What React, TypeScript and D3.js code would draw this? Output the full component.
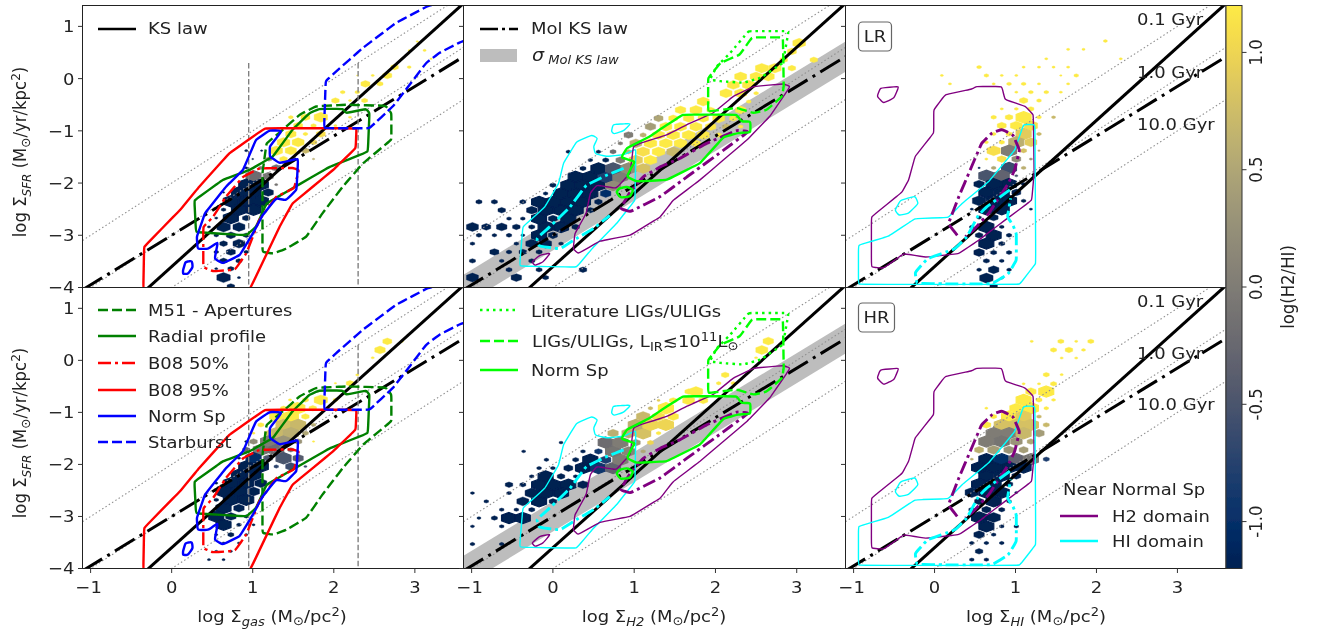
import React from "react";
import * as d3 from "d3";

type Pt = [number, number];
type Row = [number, [number, number, number][]];

const G = 1.2; // gold end of the colour scale
const N = -1.2; // navy end of the colour scale

const xTicks = [-1, 0, 1, 2, 3];
const yTicks = [-4, -3, -2, -1, 0, 1];
const cbTicks = [1.0, 0.5, 0.0, -0.5, -1.0];
const depletionOffsets = [-2, -3, -4];
const depletionLabels = ["0.1 Gyr", "1.0 Gyr", "10.0 Gyr"];
const lawX = [-1.1, 3.6];

// ---------- gas panel contours ----------
const b08_95: Pt[] = [[-0.35,-4.05],[-0.34,-3.22],[0.10,-2.52],[0.34,-2.07],[0.71,-1.43],[1.15,-0.95],[2.28,-0.95],[2.27,-1.33],[1.99,-1.75],[1.49,-2.39],[1.33,-2.84],[0.96,-4.05]];
const m51Ap: Pt[] = [[1.12,-3.32],[1.25,-3.35],[1.41,-3.26],[1.66,-3.03],[1.86,-2.58],[2.11,-2.07],[2.36,-1.62],[2.71,-1.17],[2.71,-0.66],[2.64,-0.52],[2.15,-0.50],[1.78,-0.53],[1.58,-0.69],[1.37,-0.98],[1.17,-1.24],[1.12,-1.81]];
const radial: Pt[] = [[0.28,-2.33],[0.30,-2.94],[0.92,-3.0],[1.04,-2.84],[1.17,-2.39],[1.49,-2.10],[1.95,-1.69],[2.42,-1.40],[2.44,-0.66],[2.40,-0.58],[2.15,-0.66],[2.11,-0.58],[1.82,-0.58],[1.70,-0.66],[1.49,-0.98],[1.25,-1.49],[0.96,-1.75],[0.63,-1.94]];
const b08_50: Pt[] = [[0.39,-2.84],[0.39,-3.61],[0.51,-3.69],[0.78,-3.66],[0.92,-3.35],[1.08,-2.71],[1.29,-2.26],[1.51,-2.10],[1.57,-1.75],[1.49,-1.71],[1.08,-1.72],[0.88,-1.88],[0.67,-2.26],[0.51,-2.65]];
const normSp: Pt[] = [[0.32,-3.26],[0.45,-3.26],[0.57,-3.13],[0.53,-3.45],[0.63,-3.54],[0.84,-3.38],[1.00,-2.97],[1.12,-2.62],[1.29,-2.29],[1.41,-2.33],[1.54,-2.13],[1.56,-1.53],[1.33,-1.62],[1.21,-1.49],[1.21,-1.30],[1.36,-1.0],[1.21,-0.99],[1.04,-1.17],[0.88,-1.75],[0.67,-2.07],[0.41,-2.58],[0.31,-3.03]];
const normSpIsl: Pt[] = [[0.14,-3.67],[0.17,-3.51],[0.25,-3.49],[0.26,-3.61],[0.20,-3.74],[0.14,-3.74]];
const starburst: Pt[] = [[1.88,-0.95],[1.90,-0.05],[2.03,0.14],[2.36,0.59],[2.77,1.07],[3.16,1.39],[3.7,1.6],[3.7,0.78],[3.55,0.69],[3.30,0.49],[3.14,0.30],[2.89,-0.21],[2.73,-0.53],[2.44,-0.95]];
const gasLimits = [0.95, 2.3];
const gasLimitTop = 0.3;

// ---------- H2 panel contours ----------
const h2HiThin: Pt[] = [[-0.41,-3.59],[0.29,-3.61],[0.48,-3.26],[0.78,-2.78],[1.01,-2.33],[1.02,-1.35],[0.87,-1.46],[0.66,-1.49],[0.52,-1.44],[0.50,-1.30],[0.55,-1.14],[0.48,-1.08],[0.29,-1.21],[0.13,-1.62],[0.07,-2.01],[-0.10,-2.46],[-0.37,-2.84]];
const h2HiIsl: Pt[] = [[0.72,-1.01],[0.74,-0.88],[0.83,-0.87],[0.96,-0.86],[0.87,-1.0],[0.75,-1.06]];
const h2HiThick: Pt[] = [[0.87,-1.72],[0.66,-1.85],[0.41,-2.04],[0.21,-2.46],[-0.04,-2.84],[-0.20,-3.06],[-0.17,-3.21],[0.09,-3.26],[0.29,-3.06],[0.50,-2.87],[0.70,-2.62]];
const h2H2Isl: Pt[] = [[-0.26,-3.51],[-0.22,-3.58],[-0.12,-3.51],[-0.03,-3.34],[-0.16,-3.38]];
const h2H2Thin: Pt[] = [[0.25,-3.26],[0.31,-3.35],[0.58,-3.11],[0.95,-3.0],[1.32,-2.65],[1.48,-2.33],[1.81,-1.94],[2.39,-1.17],[2.67,-0.72],[2.92,-0.15],[2.84,-0.10],[2.47,-0.15],[2.22,-0.34],[1.97,-0.66],[1.65,-0.88],[1.40,-1.08],[1.07,-1.24],[0.99,-1.30],[0.95,-1.81],[0.78,-2.10],[0.66,-2.07],[0.54,-2.04],[0.46,-2.19],[0.41,-2.58],[0.27,-2.97]];
const h2H2Thick: Pt[] = [[0.83,-2.49],[0.95,-2.55],[1.32,-2.26],[1.65,-1.88],[2.10,-1.37],[2.41,-1.01],[2.26,-0.99],[1.89,-1.24],[1.56,-1.53],[1.32,-1.69],[1.11,-1.88],[0.95,-2.17]];
const h2Norm: Pt[] = [[0.84,-1.51],[0.91,-1.33],[1.19,-1.11],[1.34,-0.95],[1.60,-0.69],[2.26,-0.69],[2.32,-0.82],[2.43,-0.82],[2.43,-1.03],[2.28,-1.04],[2.10,-1.12],[1.81,-1.62],[1.40,-1.94],[1.03,-1.97],[0.91,-1.88],[0.97,-1.69],[1.01,-1.59]];
const h2NormIsl: Pt[] = [[0.78,-2.17],[0.83,-2.28],[0.95,-2.26],[0.99,-2.13],[0.91,-2.07],[0.82,-2.10]];
const h2Ligs: Pt[] = [[1.91,-0.63],[1.91,0.01],[2.06,0.30],[2.30,0.46],[2.45,0.79],[2.83,0.79],[2.84,-0.15],[2.82,-0.34],[2.63,-0.60],[2.47,-0.66],[2.26,-0.56]];
const h2Lit: Pt[] = [[2.41,0.91],[2.90,0.91],[2.83,0.30],[2.55,0.01],[2.34,-0.08],[2.06,-0.05],[1.93,-0.02],[2.02,0.24],[2.18,0.49]];
const molSigma = 0.29;

// ---------- HI panel contours ----------
const hiH2Thin: Pt[] = [[-0.78,-2.65],[-0.78,-3.61],[-0.63,-3.63],[-0.38,-3.35],[-0.11,-3.42],[0.30,-3.35],[0.54,-3.10],[0.87,-2.71],[1.20,-2.33],[1.23,-1.81],[1.22,-0.69],[1.12,-0.53],[0.87,-0.40],[0.83,-0.15],[0.52,-0.15],[0.46,-0.20],[0.13,-0.31],[-0.01,-0.60],[-0.01,-1.04],[-0.24,-1.49],[-0.32,-1.94],[-0.40,-2.17]];
const hiH2Isl: Pt[] = [[-0.71,-0.34],[-0.67,-0.18],[-0.44,-0.15],[-0.50,-0.37],[-0.63,-0.47]];
const hiHiThin: Pt[] = [[-0.94,-3.94],[-0.94,-3.19],[-0.57,-3.02],[-0.24,-2.68],[0.17,-2.66],[0.34,-2.39],[0.67,-1.97],[0.99,-1.37],[1.10,-0.88],[1.24,-0.88],[1.25,-3.54],[1.05,-3.94]];
const hiHiIsl: Pt[] = [[-0.49,-2.52],[-0.42,-2.33],[-0.24,-2.25],[-0.20,-2.39],[-0.32,-2.58],[-0.44,-2.62]];
const hiH2Thick: Pt[] = [[0.28,-3.0],[0.17,-2.78],[0.30,-2.26],[0.44,-1.75],[0.58,-1.24],[0.71,-1.04],[0.83,-0.97],[0.97,-1.08],[1.05,-1.37],[0.99,-1.75],[0.91,-2.01],[0.67,-2.58],[0.48,-2.90],[0.38,-3.03]];
const hiHiThick: Pt[] = [[0.93,-2.13],[0.64,-2.46],[0.54,-2.62],[0.40,-3.03],[0.25,-3.26],[-0.09,-3.45],[-0.24,-3.71],[-0.22,-3.92],[0.13,-3.93],[0.71,-3.93],[0.91,-3.74],[1.01,-3.48],[1.01,-2.97],[0.97,-2.81],[0.90,-2.65],[0.94,-2.29]];

// ---------- hexbin cells: [y, [[x, relative size, log(H2/HI)], ...]] ----------
const hexGasLR: Row[] = [
 [0.71,[[3.03,.15,G]]],[0.54,[[2.93,.15,G],[3.12,.2,G]]],[0.38,[[2.84,.15,G],[3.20,.15,G]]],[0.22,[[2.75,.5,G],[2.93,.25,G]]],
 [0.06,[[2.66,.6,G],[2.48,.2,G],[2.29,.1,G]]],[-0.10,[[2.39,.6,G],[2.57,.4,G]]],[-0.26,[[2.29,.3,G],[2.11,.3,G]]],[-0.42,[[2.02,.5,G],[2.38,.4,G],[2.20,.2,G]]],
 [-0.74,[[1.84,.9,G],[1.65,.6,G],[2.20,.2,G],[1.47,.3,G]]],[-0.90,[[1.56,.6,G],[1.75,.35,G],[2.02,.2,G]]],[-1.06,[[1.47,.7,G],[1.65,.3,G],[1.84,.6,1.1]]],
 [-1.22,[[1.38,.85,G],[1.56,.8,G],[1.75,.45,1.0]]],[-1.38,[[1.29,.85,G],[1.47,.75,G],[1.65,.5,.7],[0.92,.2,N],[1.11,.15,N]]],[-1.54,[[1.38,.5,G],[1.75,.15,.6],[1.0,.12,N],[1.20,.4,.3]]],
 [-1.71,[[1.10,.3,0],[1.29,.6,-.1],[0.92,.2,N]]],[-1.87,[[1.01,1,-.2],[1.19,.7,-.1]]],
 [-2.03,[[0.92,1,N],[1.10,1,N],[1.29,.2,-.1]]],[-2.18,[[1.01,1,N],[0.83,1,N],[0.64,.15,N],[1.19,.7,N]]],[-2.35,[[0.73,1,N],[0.92,1,N],[1.10,1,N]]],
 [-2.51,[[0.83,1,N],[1.01,1,N],[0.64,.3,N]]],[-2.67,[[0.73,1,N],[0.92,.5,N],[0.55,.2,N]]],[-2.84,[[0.64,.9,N],[0.83,.8,N],[0.46,.2,N]]],
 [-3.0,[[0.73,.6,N],[0.92,.4,N],[0.55,.3,N]]],[-3.16,[[0.64,.5,N],[0.83,.8,N]]],[-3.32,[[0.73,.6,N],[0.92,.3,N],[0.55,.3,N]]],
 [-3.49,[[0.64,.5,N],[0.83,.4,N]]],[-3.64,[[0.73,.4,N],[0.55,.2,N]]],[-3.81,[[0.64,.9,N],[0.83,.2,N]]],[-3.98,[[0.73,.5,N]]],
];
const hexGasHR: Row[] = [
 [0.365,[[2.66,.6,G],[2.84,.2,G]]],[0.2,[[2.57,.7,G]]],[0.05,[[2.48,.2,G]]],[-0.28,[[2.29,.2,G]]],[-0.44,[[2.2,.5,G],[2.02,.15,G]]],
 [-0.76,[[1.84,.9,G],[1.65,.4,G],[2.02,.3,G],[1.46,.2,G]]],[-0.92,[[1.74,.5,G],[1.93,.2,G],[1.55,1,G],[1.38,.4,G]]],[-1.08,[[1.29,.9,G],[1.47,1,G],[1.65,.5,G]]],
 [-1.24,[[1.10,.4,G],[1.38,1,.8],[1.56,1,.7],[1.75,.3,.6]]],[-1.4,[[1.01,.2,G],[1.29,1,.7],[1.47,1,.6],[1.65,.4,.5],[1.19,.5,.9]]],
 [-1.56,[[1.19,1,0],[1.38,1,.3],[1.56,.5,.3],[1.75,.15,G],[1.01,.5,.2],[0.92,.2,N]]],[-1.72,[[1.10,1,-.1],[1.29,1,-.2],[1.47,.4,-.2],[0.92,.5,-.3]]],
 [-1.88,[[1.01,1,-1.0],[1.19,.6,-.5],[1.38,1,-.5],[1.56,.7,-.4],[0.83,.2,N]]],[-2.04,[[0.92,1,N],[1.10,1,N],[1.29,.3,-.7],[1.47,.7,-.6],[1.65,.2,-.6]]],
 [-2.2,[[0.83,1,N],[1.01,1,N]]],[-2.36,[[0.73,1,N],[0.92,1,N],[1.10,.8,N],[0.55,.2,N]]],[-2.52,[[0.64,1,N],[0.83,1,N],[1.01,.8,N]]],
 [-2.68,[[0.73,1,N],[0.92,1,N],[0.55,.3,N]]],[-2.84,[[0.64,1,N],[0.83,.7,N]]],[-3.0,[[0.55,1,N],[0.73,.7,N],[0.92,.3,N]]],
 [-3.16,[[0.64,1,N],[0.83,.3,N],[1.01,.2,N]]],[-3.35,[[0.73,.4,N],[0.92,.2,N],[0.55,.2,N]]],[-3.51,[[0.64,.2,N],[0.83,.2,N]]],
 [-3.67,[[0.73,.2,N],[0.55,.2,N]]],[-3.83,[[0.46,.2,N],[0.64,.2,N]]],
];
const hexH2LR: Row[] = [
 [-3.81,[[-.99,.8,N],[-.45,.7,N],[-.09,.4,N]]],[-3.66,[[-.54,.4,N],[.37,.5,N],[-.17,.4,N]]],[-3.49,[[-.99,.4,N],[-.63,.3,N],[-.26,.4,N]]],
 [-3.32,[[-.72,.6,N],[-.54,.35,N],[-.37,.5,N],[-.17,.4,N]]],[-3.16,[[-.99,.3,N],[-.45,.3,N],[-.26,.8,N],[-.09,.8,N],[.1,.3,N]]],
 [-3.0,[[-.91,.35,N],[-.72,.3,N],[-.54,.35,N],[-.37,.25,N],[-.17,1,N],[0,.6,N]]],[-2.84,[[-.99,.8,N],[-.82,.6,N],[-.63,.7,N],[-.45,.5,N],[-.26,.4,N],[-.09,1,N],[.1,1,N],[.28,.5,N]]],
 [-2.68,[[-.54,.3,N],[-.37,.3,N],[-.17,1,N],[0,.6,N],[.19,1,N]]],[-2.52,[[-.63,.5,N],[-.26,.7,N],[-.09,1,N],[.1,1,N],[.28,1,N],[.46,.5,N]]],
 [-2.36,[[-.91,.4,N],[-.72,.4,N],[-.37,.4,N],[-.17,1,N],[0,1,N],[.19,1,N],[.37,1,N],[.56,.5,N]]],[-2.2,[[-.09,.3,N],[.1,1,N],[.28,1,N],[.46,1,N],[.65,.7,-1.0]]],
 [-2.04,[[0,.4,N],[.19,1,N],[.37,1,N],[.56,1,N],[.74,1,.2]]],[-1.88,[[.28,1,N],[.46,1,N],[.65,1,-.8],[.83,1,0]]],
 [-1.72,[[.37,.4,N],[.56,1,N],[.74,1,-.5],[.93,1,.2],[1.11,.9,.8]]],[-1.56,[[.46,.3,N],[.65,.4,N],[.83,.6,0],[1.02,.9,.9],[1.2,.85,G]]],
 [-1.40,[[.19,.3,N],[.56,.3,N],[.74,.4,-.2],[.93,.4,.6],[1.11,.85,1.1],[1.3,.85,G],[1.48,.85,.7]]],[-1.24,[[.83,.3,0],[1.02,.8,.6],[1.2,.85,G],[1.39,.85,G],[1.57,.85,G],[1.76,.6,G]]],
 [-1.08,[[.93,.6,0],[1.11,.4,.6],[1.3,.8,G],[1.48,.85,G],[1.67,.85,G],[1.85,.8,G],[2.04,.4,G]]],[-.92,[[1.2,.7,.4],[1.39,.8,G],[1.57,.8,G],[1.76,.8,G],[1.94,.7,G],[2.13,.5,.7],[2.31,.3,G]]],
 [-.76,[[1.3,.6,.5],[1.48,.6,G],[1.67,.7,G],[1.85,.7,G],[2.04,.8,G],[2.22,.5,G]]],[-.60,[[1.57,.7,G],[1.76,.8,G],[1.94,.5,G],[2.31,.7,G]]],
 [-.44,[[1.85,.8,G],[2.41,.3,G]]],[-.28,[[2.13,.8,G],[2.31,.8,G],[2.5,.3,G]]],[-.12,[[2.22,.8,G],[2.41,.85,G]]],[.04,[[2.31,.8,G],[2.5,.8,G],[2.65,.8,G]]],
 [.2,[[2.57,.85,G],[2.73,.85,G],[2.94,.5,G]]],[.36,[[2.84,.5,G],[3.21,.5,G]]],[.52,[[2.94,.6,G]]],[.68,[[3.03,.85,G]]],
];
const hexH2HR: Row[] = [
 [-3.53,[[-.99,.3,N],[-.63,.3,N]]],[-3.19,[[-.99,.25,N],[-.63,.3,N]]],[-3.03,[[-.91,.25,N],[-.72,.4,N],[-.54,1,N],[-.37,1,N]]],
 [-2.87,[[-.63,.3,N],[-.45,.3,N],[-.26,.4,N]]],[-2.71,[[-.82,.3,N],[-.37,.8,N],[-.17,1,N],[0,.5,N]]],[-2.55,[[-.99,.25,N],[-.54,.3,N],[-.26,.9,N],[-.09,1,N],[.1,1,N]]],
 [-2.39,[[-.54,.5,N],[-.37,.4,N],[-.17,1,N],[0,1,N],[.19,1,N],[.37,.7,N]]],[-2.23,[[-.26,.3,N],[-.09,1,N],[.1,.5,N],[.28,.3,N]]],
 [-2.07,[[-.17,.3,N],[0,.3,N],[.19,.6,N],[.37,1,N],[.56,1,-.9],[.74,1,-.3]]],[-1.91,[[-.08,.3,N],[.28,.4,N],[.46,1,N],[.65,.7,-.8],[.83,1,0]]],
 [-1.75,[[-.36,.25,N],[.37,.3,N],[.56,.5,-.9],[.74,1,-.1],[.93,.9,.1],[1.11,.3,.5]]],[-1.58,[[.1,.25,N],[.65,1,-.2],[.83,1,0],[1.02,.6,.3],[1.2,.4,1.0]]],
 [-1.4,[[.74,.7,.6],[.93,.9,.6],[1.11,1,.8],[1.3,.3,G]]],[-1.24,[[1.02,1,.6],[1.2,1,1],[1.39,1,1]]],[-1.08,[[1.11,.9,.7],[1.3,.8,1.1],[1.48,.7,G]]],
 [-.92,[[1.2,.3,.7],[1.39,1,G]]],[-.77,[[1.3,.2,.9],[1.48,.5,G],[1.67,.8,G],[1.85,.6,G]]],[-.6,[[1.67,.5,G],[1.76,.9,G]]],[-.44,[[2.04,.3,G],[2.22,.3,G]]],
 [-.28,[[2.12,.5,G]]],[.05,[[2.5,.2,G]]],[.2,[[2.57,.8,G]]],[.37,[[2.65,.7,G]]],
];
const hexHiLR: Row[] = [
 [.72,[[2.11,.25,G]]],[.56,[[1.65,.2,G],[1.84,.2,G]]],[.38,[[1.38,.2,G],[2.30,.2,G]]],[.22,[[.55,.3,G],[1.10,.2,G],[1.29,.2,G],[1.47,.2,G],[1.65,.2,G]]],
 [.06,[[.09,.2,G],[.64,.3,G],[.83,.2,G],[1.01,.2,G],[1.56,.15,G],[1.75,.3,G]]],[-.10,[[.19,.2,G],[.73,.2,G],[.92,.3,G],[1.10,.3,G],[1.29,.2,G],[1.65,.2,G]]],
 [-.26,[[1.01,.2,G],[1.19,.3,G],[1.38,.3,G],[1.56,.2,G]]],[-.42,[[1.10,.55,G],[1.29,.3,G]]],[-.58,[[.83,.2,G],[1.01,.25,G],[1.19,.4,G]]],
 [-.74,[[.73,.35,G],[.92,.5,G],[1.10,1,G],[1.29,.3,G],[1.47,.25,.7]]],[-.90,[[.83,.6,G],[1.01,.8,G],[1.19,.9,1.1]]],[-1.06,[[.73,.3,G],[.92,.4,G],[1.10,1,.9],[1.29,.3,.7]]],
 [-1.22,[[.64,.25,G],[.83,.35,G],[1.01,1,.6],[1.19,.8,.9]]],[-1.38,[[.73,.9,1.1],[.92,1,0],[1.10,.4,.8],[1.29,.15,.5]]],[-1.54,[[.64,.2,G],[.83,.6,1.1],[1.01,.6,.2],[1.19,.2,.3]]],
 [-1.71,[[.55,.15,N],[.73,.3,.5],[.92,1,-.6],[1.10,.3,.6]]],[-1.86,[[.64,1,-.5],[.83,1,-.3],[1.01,.2,-.5]]],[-2.02,[[.55,.7,N],[.73,1,N],[.92,1,N],[1.10,.3,N]]],
 [-2.18,[[.64,1,N],[.83,1,N],[1.01,.6,N]]],[-2.34,[[.55,.9,N],[.73,1,N],[.92,1,N],[1.10,.3,N]]],[-2.50,[[.46,.2,N],[.64,1,N],[.83,1,N],[1.19,.2,N]]],
 [-2.66,[[.55,.3,N],[.73,.6,N]]],[-2.84,[[.46,.3,N],[.64,1,N],[.83,.3,N]]],[-3.0,[[.55,.5,N],[.73,1,N],[.92,.35,N]]],[-3.16,[[.64,1,N],[.83,.4,N]]],
 [-3.33,[[.55,.7,N],[.73,.4,N],[.92,.35,N]]],[-3.49,[[.64,.4,N],[.83,.3,N]]],[-3.66,[[.55,.3,N],[.73,.7,N],[.92,.3,N]]],[-3.82,[[.64,.9,N],[.83,.2,N]]],[-3.98,[[.73,.5,N]]],
];
const hexHiHR: Row[] = [
 [.365,[[1.20,.2,G],[1.56,.4,G],[1.75,.2,G],[1.93,.4,G]]],[.2,[[1.47,.4,G],[1.66,.5,G],[1.84,.25,G]]],[.045,[[1.57,.2,G],[1.75,.2,G]]],[-.275,[[1.38,.4,G],[1.57,.2,G]]],
 [-.45,[[1.10,.2,G],[1.29,.2,G],[1.47,.4,G]]],[-.6,[[1.19,.7,G],[1.38,1,G]]],[-.76,[[1.10,1,G],[1.29,.4,G],[1.47,.25,G]]],[-.92,[[.64,.2,G],[1.01,.9,G],[1.19,1,G],[1.38,.3,G]]],
 [-1.08,[[.73,.4,G],[.92,1,G],[1.10,1,.9],[1.29,.3,.7]]],[-1.24,[[.64,.6,G],[.83,1,.8],[1.01,1,.8],[1.19,1,.8],[1.38,.4,.7]]],[-1.4,[[.73,1,0],[.92,1,0],[1.10,1,.7],[1.29,.7,.4]]],
 [-1.56,[[.64,1,0],[.83,1,-.1],[1.01,.8,.3],[1.19,.5,.5]]],[-1.72,[[.55,.6,.6],[.73,.8,.4],[.92,.7,.3],[1.10,.6,.4]]],[-1.9,[[.46,.2,.6],[.64,1,N],[.83,1,-1.0],[1.01,1,-.3],[1.19,1,-.1],[1.38,.4,-.8]]],
 [-2.06,[[.55,1,N],[.73,1,N],[.92,1,N],[1.10,1,N]]],[-2.22,[[.64,1,N],[.83,1,N],[1.01,.6,N]]],[-2.38,[[.55,1,N],[.73,1,N],[.92,.5,N]]],[-2.54,[[.46,.9,N],[.64,1,N],[.83,1,N],[1.01,.2,N]]],
 [-2.71,[[.55,.6,N],[.73,1,N],[.92,.3,N]]],[-2.87,[[.46,.4,N],[.64,.6,N],[.83,.4,N]]],[-3.02,[[.55,1,N],[.73,.9,N]]],[-3.19,[[.64,1,N],[.83,.3,N],[1.01,.3,N]]],
 [-3.35,[[.55,.7,N],[.73,.3,N]]],[-3.51,[[.46,.3,N],[.64,.3,N],[.83,.3,N]]],[-3.67,[[.55,.5,N]]],[-3.83,[[.46,.3,N],[.64,.3,N]]],
];

// ---------- legend / label text ----------
const legendGasTop = ["KS law"];
const legendGasBottom = ["M51 - Apertures", "Radial profile", "B08 50%", "B08 95%", "Norm Sp", "Starburst"];
const legendH2Top = ["Mol KS law"];
const legendHiBottom = ["H2 domain", "HI domain"];

// ---------- layout ----------
const W = 1319, H = 631;
const colX: [number, number][] = [[82.5, 463.5], [463.5, 845.5], [845.5, 1226]];
const rowY: [number, number][] = [[5.5, 287.5], [287.5, 568.5]];
const xDomain: [number, number] = [-1.1, 3.6];
const yDomain: [number, number] = [-4, 1.4];
const hexW = 0.184, hexR = 0.107;

const FONT = "'DejaVu Sans', sans-serif";
const TXT = "#222";
const FS = 16.5;
const SUB = 12;
const STRETCH = 1.09;
const DASHDOT = "23 6 3 6";
const COL_DD = "13 4 3 4";
const DASHED = "10 4";
const SOLID_W = 2.4, THICK_W = 2.9, THIN_W = 1.4;
const CORNER = 0.05; // data units over which a traced corner is eased

const RED = "#ff0000", GREEN = "#008000", BLUE = "#0000ff", LIME = "#00ff00", CYAN = "#00ffff", PURPLE = "#800080";

function Hexes({ rows, x, y }: { rows: Row[]; x: any; y: any }) {
  const color = (v: number) => d3.interpolateCividis((v + 1.2) / 2.4);
  const cells = rows.flatMap(([yy, cs]) => cs.map(([xx, s, v]) => ({ xx, yy, s, v })));
  return (
    <g>
      {cells.map((c, i) => {
        const w = (hexW / 2) * c.s, r = hexR * c.s;
        const pts: Pt[] = [[0, r], [w, r / 2], [w, -r / 2], [0, -r], [-w, -r / 2], [-w, r / 2]];
        return (
          <polygon key={i} fill={color(c.v)} stroke={color(c.v)} strokeWidth={c.s >= 1 ? 1.2 : 0.4}
            points={pts.map(([a, b]) => `${x(c.xx + a)},${y(c.yy + b)}`).join(" ")} />
        );
      })}
    </g>
  );
}

// Eases the corners of the traced contour while keeping it on the traced edges.
function rounded(pts: Pt[], closed: boolean): Pt[] {
  const out: Pt[] = [];
  const n = pts.length;
  const toward = (p: Pt, q: Pt): Pt => {
    const len = Math.hypot(q[0] - p[0], q[1] - p[1]) || 1;
    const t = Math.min(CORNER / len, 0.4);
    return [p[0] + (q[0] - p[0]) * t, p[1] + (q[1] - p[1]) * t];
  };
  for (let i = 0; i < n; i++) {
    const p = pts[i];
    const prev = pts[(i - 1 + n) % n], next = pts[(i + 1) % n];
    if (closed || i > 0) out.push(toward(p, prev));
    out.push(p);
    if (closed || i < n - 1) out.push(toward(p, next));
  }
  return out;
}

function Contour({ pts, x, y, color, w, dash, open }: { pts: Pt[]; x: any; y: any; color: string; w: number; dash?: string; open?: boolean }) {
  const gen = d3.line<Pt>().x(d => x(d[0])).y(d => y(d[1]))
    .curve(open ? d3.curveBasis : d3.curveBasisClosed);
  return <path d={gen(rounded(pts, !open)) ?? ""} fill="none" stroke={color} strokeWidth={w} strokeDasharray={dash} strokeLinejoin="round" />;
}

function AxisLabel({ sym, unit }: { sym: string; unit: string }) {
  return (
    <>
      <tspan>log Σ</tspan>
      <tspan dy={4} fontSize={SUB} fontStyle="italic">{sym}</tspan>
      <tspan dy={-4}> (M</tspan>
      <tspan dy={3} fontSize={SUB}>⊙</tspan>
      <tspan dy={-3}>/{unit}</tspan>
      <tspan dy={-6} fontSize={SUB}>2</tspan>
      <tspan dy={6}>)</tspan>
    </>
  );
}

function LegendLine({ x, y, color, w, dash }: { x: number; y: number; color: string; w: number; dash?: string }) {
  return <line x1={x} x2={x + 38} y1={y} y2={y} stroke={color} strokeWidth={w} strokeDasharray={dash} />;
}
function Label({ x, y, children, anchor, rotate }: { x: number; y: number; children: React.ReactNode; anchor?: string; rotate?: boolean }) {
  return (
    <text transform={`translate(${x},${y}) scale(${STRETCH},1)${rotate ? " rotate(-90)" : ""}`} dy="0.36em" fontSize={FS} fill={TXT} fontFamily={FONT} textAnchor={anchor as any}>
      {children}
    </text>
  );
}

function Panel({ col, row, rows, children, id }: { col: number; row: number; rows: Row[]; id: string; children: (x: any, y: any) => React.ReactNode }) {
  const [l, r] = colX[col];
  const [t, b] = rowY[row];
  const x = d3.scaleLinear().domain(xDomain).range([l, r]);
  const y = d3.scaleLinear().domain(yDomain).range([b, t]);
  const dotted = d3.line<number>();
  const ks = (v: number) => 1.4 * v - 3.6;
  const mol = (v: number) => 0.95 * v - 3.0;
  return (
    <g>
      <clipPath id={id}><rect x={l} y={t} width={r - l} height={b - t} /></clipPath>
      <rect x={l} y={t} width={r - l} height={b - t} fill="#fff" />
      <g clipPath={`url(#${id})`}>
        {col === 1 && (
          <path fill="#bdbdbd" d={d3.area<number>().x(v => x(v)).y0(v => y(mol(v) - molSigma)).y1(v => y(mol(v) + molSigma))(lawX) ?? ""} />
        )}
        <Hexes rows={rows} x={x} y={y} />
        {depletionOffsets.map(o => (
          <path key={o} d={dotted(lawX.map(v => [x(v), y(v + o)]) as any) ?? ""} fill="none" stroke="#909090" strokeWidth={1.1} strokeDasharray="1.5 2.4" />
        ))}
        <path d={dotted(lawX.map(v => [x(v), y(ks(v))]) as any) ?? ""} fill="none" stroke="#000" strokeWidth={3} />
        <path d={dotted(lawX.map(v => [x(v), y(mol(v))]) as any) ?? ""} fill="none" stroke="#000" strokeWidth={3} strokeDasharray={DASHDOT} />
        {children(x, y)}
      </g>
      <rect x={l} y={t} width={r - l} height={b - t} fill="none" stroke="#222" strokeWidth={1} />
      {xTicks.map(v => (
        <line key={v} x1={x(v)} x2={x(v)} y1={b} y2={b + 4.5} stroke="#333" />
      ))}
      {yTicks.map(v => (
        <line key={v} x1={l - 4.5} x2={l} y1={y(v)} y2={y(v)} stroke="#333" />
      ))}
      {row === 1 && xTicks.map(v => (
        <Label key={v} x={x(v) - (v < 0 ? 2 : 0)} y={b + 19} anchor="middle">{v < 0 ? `−${-v}` : v}</Label>
      ))}
      {col === 0 && yTicks.map(v => (
        <Label key={v} x={l - 8} y={y(v)} anchor="end">{v < 0 ? `−${-v}` : v}</Label>
      ))}
    </g>
  );
}

function GasContours({ x, y }: { x: any; y: any }) {
  return (
    <>
      {gasLimits.map(v => (
        <line key={v} x1={x(v)} x2={x(v)} y1={y(gasLimitTop)} y2={y(-4)} stroke="#808080" strokeWidth={1.4} strokeDasharray="5.5 2.5" />
      ))}
      <Contour pts={m51Ap} x={x} y={y} color={GREEN} w={SOLID_W} dash={DASHED} />
      <Contour pts={radial} x={x} y={y} color={GREEN} w={SOLID_W} />
      <Contour pts={b08_50} x={x} y={y} color={RED} w={SOLID_W} dash={COL_DD} />
      <Contour pts={b08_95} x={x} y={y} color={RED} w={SOLID_W} />
      <Contour pts={normSp} x={x} y={y} color={BLUE} w={SOLID_W} />
      <Contour pts={normSpIsl} x={x} y={y} color={BLUE} w={SOLID_W} />
      <Contour pts={starburst} x={x} y={y} color={BLUE} w={SOLID_W} dash={DASHED} />
    </>
  );
}
function H2Contours({ x, y }: { x: any; y: any }) {
  return (
    <>
      <Contour pts={h2HiThin} x={x} y={y} color={CYAN} w={THIN_W} />
      <Contour pts={h2HiIsl} x={x} y={y} color={CYAN} w={THIN_W} />
      <Contour pts={h2HiThick} x={x} y={y} color={CYAN} w={THICK_W} dash={COL_DD} open />
      <Contour pts={h2H2Thin} x={x} y={y} color={PURPLE} w={THIN_W} />
      <Contour pts={h2H2Isl} x={x} y={y} color={PURPLE} w={THIN_W} />
      <Contour pts={h2H2Thick} x={x} y={y} color={PURPLE} w={THICK_W} dash={COL_DD} />
      <Contour pts={h2Norm} x={x} y={y} color={LIME} w={SOLID_W} />
      <Contour pts={h2NormIsl} x={x} y={y} color={LIME} w={SOLID_W} />
      <Contour pts={h2Ligs} x={x} y={y} color={LIME} w={SOLID_W} dash={DASHED} />
      <Contour pts={h2Lit} x={x} y={y} color={LIME} w={SOLID_W} dash="2.5 4" />
    </>
  );
}
function HiContours({ x, y }: { x: any; y: any }) {
  return (
    <>
      <Contour pts={hiH2Thin} x={x} y={y} color={PURPLE} w={THIN_W} />
      <Contour pts={hiH2Isl} x={x} y={y} color={PURPLE} w={THIN_W} />
      <Contour pts={hiHiThin} x={x} y={y} color={CYAN} w={THIN_W} />
      <Contour pts={hiHiIsl} x={x} y={y} color={CYAN} w={THIN_W} />
      <Contour pts={hiH2Thick} x={x} y={y} color={PURPLE} w={THICK_W} dash={COL_DD} open />
      <Contour pts={hiHiThick} x={x} y={y} color={CYAN} w={THICK_W} dash={COL_DD} open />
    </>
  );
}

function GyrLabels({ row }: { row: number }) {
  const ys = row === 0 ? [19, 72, 124] : [301, 353, 404];
  return (
    <>
      {depletionLabels.map((s, i) => (
        <Label key={s} x={1137} y={ys[i]}>{s}</Label>
      ))}
    </>
  );
}

export default function App() {
  const gradStops = d3.range(0, 1.001, 0.05);
  const cbTop = 5.5, cbBottom = 568.5, cbL = 1226, cbR = 1242;
  const cb = d3.scaleLinear().domain([-1.2, 1.2]).range([cbBottom, cbTop]);
  return (
    <svg width={W} height={H} viewBox={`0 0 ${W} ${H}`} style={{ position: "fixed", left: 0, top: 0, background: "#fff" }}>
      <defs>
        <linearGradient id="cbar" x1="0" x2="0" y1="1" y2="0">
          {gradStops.map(t => <stop key={t} offset={t} stopColor={d3.interpolateCividis(t)} />)}
        </linearGradient>
        <filter id="soft" x="0" y="0" width="100%" height="100%"><feGaussianBlur stdDeviation="0.45" /></filter>
      </defs>
      <g filter="url(#soft)">
        <rect width={W} height={H} fill="#fff" />
        <Panel id="p00" col={0} row={0} rows={hexGasLR}>{(x, y) => <GasContours x={x} y={y} />}</Panel>
        <Panel id="p01" col={1} row={0} rows={hexH2LR}>{(x, y) => <H2Contours x={x} y={y} />}</Panel>
        <Panel id="p02" col={2} row={0} rows={hexHiLR}>{(x, y) => <HiContours x={x} y={y} />}</Panel>
        <Panel id="p10" col={0} row={1} rows={hexGasHR}>{(x, y) => <GasContours x={x} y={y} />}</Panel>
        <Panel id="p11" col={1} row={1} rows={hexH2HR}>{(x, y) => <H2Contours x={x} y={y} />}</Panel>
        <Panel id="p12" col={2} row={1} rows={hexHiHR}>{(x, y) => <HiContours x={x} y={y} />}</Panel>

        <GyrLabels row={0} />
        <GyrLabels row={1} />

        {/* text boxes */}
        <rect x={858.5} y={22} width={33} height={29} rx={4} fill="#fff" stroke="#666" strokeWidth={1.2} />
        <Label x={875} y={36} anchor="middle">LR</Label>
        <rect x={858.5} y={303} width={36} height={29} rx={4} fill="#fff" stroke="#666" strokeWidth={1.2} />
        <Label x={876.5} y={317} anchor="middle">HR</Label>

        {/* legends */}
        <LegendLine x={98} y={29} color="#000" w={2.5} />
        <Label x={148} y={28}>{legendGasTop[0]}</Label>
        <LegendLine x={480} y={29} color="#000" w={2.5} dash="18 4 3 4" />
        <Label x={531} y={28}>{legendH2Top[0]}</Label>
        <rect x={480} y={49} width={37} height={13} fill="#bdbdbd" />
        <g transform={`translate(532,61) scale(${STRETCH},1)`}>
          <text fontSize={FS + 1} fill={TXT} fontFamily={FONT} fontStyle="italic">σ<tspan dy={3} fontSize={SUB}> Mol KS law</tspan></text>
        </g>

        {legendGasBottom.map((s, i) => {
          const ys = [310, 336, 363, 390, 416, 442];
          const styl = [[GREEN, DASHED], [GREEN, undefined], [RED, COL_DD], [RED, undefined], [BLUE, undefined], [BLUE, DASHED]] as const;
          return (
            <g key={s}>
              <LegendLine x={98} y={ys[i]} color={styl[i][0]} w={2.5} dash={styl[i][1] as any} />
              <Label x={148} y={ys[i]}>{s}</Label>
            </g>
          );
        })}

        <LegendLine x={480} y={310} color={LIME} w={2.5} dash="2.5 4" />
        <Label x={531} y={311}>Literature LIGs/ULIGs</Label>
        <LegendLine x={480} y={341} color={LIME} w={2.5} dash={DASHED} />
        <Label x={532} y={341}>
          LIGs/ULIGs, L<tspan dy={4} fontSize={SUB}>IR</tspan><tspan dy={-4}>≲10</tspan><tspan dy={-6} fontSize={SUB}>11</tspan><tspan dy={6}>L</tspan><tspan dy={3} fontSize={SUB}>⊙</tspan>
        </Label>
        <LegendLine x={480} y={370} color={LIME} w={2.5} />
        <Label x={531} y={370}>Norm Sp</Label>

        <Label x={1063} y={489}>Near Normal Sp</Label>
        <LegendLine x={1060} y={516} color={PURPLE} w={2.5} />
        <Label x={1112} y={516}>{legendHiBottom[0]}</Label>
        <LegendLine x={1060} y={541} color={CYAN} w={2.5} />
        <Label x={1112} y={541}>{legendHiBottom[1]}</Label>

        {/* axis labels */}
        {[152, 433].map(c => (
          <Label key={c} x={20} y={c} anchor="middle" rotate>
            <AxisLabel sym="SFR" unit="yr/kpc" />
          </Label>
        ))}
        {[[272, "gas"], [654, "H2"], [1036, "HI"]].map(([c, s]) => (
          <Label key={s as string} x={c as number} y={616} anchor="middle">
            <AxisLabel sym={s as string} unit="pc" />
          </Label>
        ))}

        {/* colour bar */}
        <rect x={cbL} y={cbTop} width={cbR - cbL} height={cbBottom - cbTop} fill="url(#cbar)" stroke="#333" strokeWidth={1} />
        {cbTicks.map(v => (
          <g key={v}>
            <line x1={cbR} x2={cbR + 4.5} y1={cb(v)} y2={cb(v)} stroke="#333" />
            <Label x={1256} y={cb(v)} anchor="middle" rotate>{v.toFixed(1)}</Label>
          </g>
        ))}
        <Label x={1288} y={287} anchor="middle" rotate>log(H2/HI)</Label>
      </g>
    </svg>
  );
}
